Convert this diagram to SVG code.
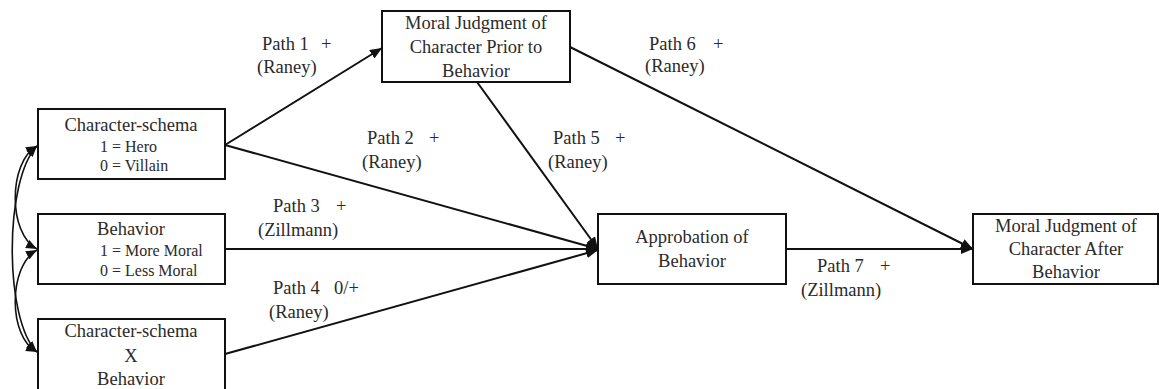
<svg xmlns="http://www.w3.org/2000/svg" width="1159" height="389" viewBox="0 0 1159 389">
  <style>
    .box { fill: #fff; stroke: #111; stroke-width: 2; }
    .t { font-family: "Liberation Serif", "Times New Roman", serif; font-size: 18.5px; fill: #2a2a2a; }
    .s { font-family: "Liberation Serif", "Times New Roman", serif; font-size: 16px; fill: #2a2a2a; }
    .c { text-anchor: middle; }
    .lbl { font-family: "Liberation Serif", "Times New Roman", serif; font-size: 18.5px; fill: #2a2a2a; }
    .edge { fill: none; stroke: #111; stroke-width: 2; marker-end: url(#arr); }
    .corr { fill: none; stroke: #111; stroke-width: 1.6; marker-start: url(#arrS); marker-end: url(#arrS); }
  </style>
  <defs>
    <marker id="arr" markerUnits="userSpaceOnUse" markerWidth="12" markerHeight="10" refX="12" refY="5" orient="auto">
      <path d="M0,0 L12,5 L0,10 z" fill="#111"/>
    </marker>
    <marker id="arrS" markerUnits="userSpaceOnUse" markerWidth="11" markerHeight="9" refX="11" refY="4.5" orient="auto-start-reverse">
      <path d="M0,0 L11,4.5 L0,9 z" fill="#111"/>
    </marker>
  </defs>
  <rect width="1159" height="389" fill="#fff"/>

  <!-- connectors -->
  <g id="connectors">
    <path class="edge" d="M225,145 L382,48"/>
    <path class="edge" d="M225,145 L598,249"/>
    <path class="edge" d="M225,249 L598,249"/>
    <path class="edge" d="M225,354 L598,250"/>
    <path class="edge" d="M477,82 L598,249"/>
    <path class="edge" d="M570,47 L973,249"/>
    <path class="edge" d="M786,249 L973,249"/>
    <!-- correlations among the exogenous variables -->
    <path class="corr" d="M37,146 C8,162 8,234 37,249"/>
    <path class="corr" d="M37,250 C8,266 8,337 37,352"/>
    <path class="corr" d="M37,146 C4,180 4,320 37,352"/>
  </g>

  <!-- path labels -->
  <g id="labels">
    <text class="lbl" x="262" y="50">Path 1</text><text class="lbl" x="321" y="50">+</text>
    <text class="lbl" x="257" y="73">(Raney)</text>
    <text class="lbl" x="367" y="144">Path 2</text><text class="lbl" x="429" y="144">+</text>
    <text class="lbl" x="362" y="168">(Raney)</text>
    <text class="lbl" x="553" y="144">Path 5</text><text class="lbl" x="615" y="144">+</text>
    <text class="lbl" x="548" y="168">(Raney)</text>
    <text class="lbl" x="649" y="50">Path 6</text><text class="lbl" x="713" y="50">+</text>
    <text class="lbl" x="645" y="72">(Raney)</text>
    <text class="lbl" x="273" y="212">Path 3</text><text class="lbl" x="336" y="212">+</text>
    <text class="lbl" x="258" y="236">(Zillmann)</text>
    <text class="lbl" x="273" y="294">Path 4</text><text class="lbl" x="334" y="294">0/+</text>
    <text class="lbl" x="269" y="318">(Raney)</text>
    <text class="lbl" x="817" y="272">Path 7</text><text class="lbl" x="880" y="272">+</text>
    <text class="lbl" x="801" y="296">(Zillmann)</text>
  </g>

  <!-- nodes -->
  <g id="schema">
    <rect class="box" x="38" y="109" width="187" height="70"/>
    <text class="t c" x="131" y="131">Character-schema</text>
    <text class="s" x="100" y="152">1 = Hero</text>
    <text class="s" x="100" y="171">0 = Villain</text>
  </g>
  <g id="behavior">
    <rect class="box" x="38" y="214" width="187" height="70"/>
    <text class="t c" x="131" y="235">Behavior</text>
    <text class="s" x="100" y="256">1 = More Moral</text>
    <text class="s" x="100" y="276">0 = Less Moral</text>
  </g>
  <g id="interaction">
    <rect class="box" x="38" y="319" width="187" height="75"/>
    <text class="t c" x="131" y="337">Character-schema</text>
    <text class="t c" x="131" y="362">X</text>
    <text class="t c" x="131" y="385">Behavior</text>
  </g>
  <g id="judgment-prior">
    <rect class="box" x="382" y="11" width="188" height="71"/>
    <text class="t c" x="476" y="29">Moral Judgment of</text>
    <text class="t c" x="476" y="53">Character Prior to</text>
    <text class="t c" x="476" y="77">Behavior</text>
  </g>
  <g id="approbation">
    <rect class="box" x="598" y="214" width="188" height="70"/>
    <text class="t c" x="692" y="243">Approbation of</text>
    <text class="t c" x="692" y="267">Behavior</text>
  </g>
  <g id="judgment-after">
    <rect class="box" x="973" y="214" width="185" height="70"/>
    <text class="t c" x="1066" y="232">Moral Judgment of</text>
    <text class="t c" x="1066" y="255">Character After</text>
    <text class="t c" x="1066" y="278">Behavior</text>
  </g>
</svg>
